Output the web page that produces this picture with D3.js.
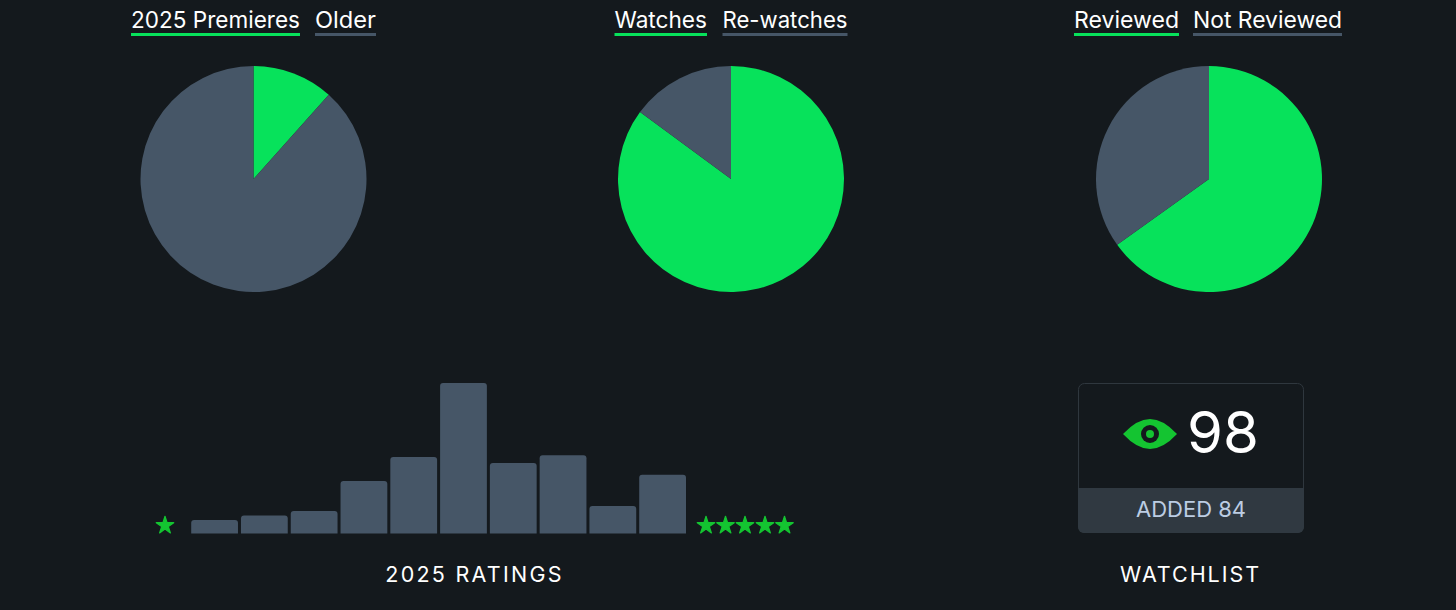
<!DOCTYPE html>
<html><head><meta charset="utf-8">
<script src="https://cdn.jsdelivr.net/npm/d3@7"></script>
<style>html,body{margin:0;padding:0;background:#14191d;overflow:hidden}svg{display:block}text{font-family:Inter,"Noto Sans",sans-serif}</style>
</head><body><div id="c"></div>
<script>
const W=1456,H=610;
const green="#07e25b",slate="#465667",starGreen="#14c431",bg="#14191d";
const pieLabels=[["2025 Premieres","Older"],["Watches","Re-watches"],["Reviewed","Not Reviewed"]];
const pieValues=[[11.6,88.4],[85.1,14.9],[65.1,34.9]];
const ratingLevels=["0.5","1","1.5","2","2.5","3","3.5","4","4.5","5"];
const ratingValues=[3,4,5,11.6,16.9,33.3,15.6,17.3,6.1,13];
const watchCount="98",addedLabel="ADDED 84",ratingsTitle="2025 RATINGS",watchTitle="WATCHLIST";
const pieCx=[253.5,731,1209];
const legendX=[[131,315],[614.5,722.5],[1074,1193]];
const legendW=[[169,61],[92.5,125],[105,149]];

const svg=d3.select("#c").append("svg").attr("width",W).attr("height",H);
svg.append("rect").attr("width",W).attr("height",H).attr("fill",bg);

const pie=d3.pie().sort(null).value(d=>d);
const arc=d3.arc().innerRadius(0).outerRadius(113);
pieValues.forEach((vals,i)=>{
  const g=svg.append("g").attr("transform",`translate(${pieCx[i]},179)`);
  g.selectAll("path").data(pie(vals)).join("path").attr("d",arc).attr("fill",(d,j)=>j==0?green:slate);
  pieLabels[i].forEach((t,j)=>{
    svg.append("text").attr("x",legendX[i][j]).attr("y",28).attr("font-size",23).attr("fill","#fff")
      .attr("textLength",legendW[i][j]).attr("lengthAdjust","spacingAndGlyphs").text(t);
    svg.append("rect").attr("x",legendX[i][j]).attr("y",33).attr("width",legendW[i][j]).attr("height",3).attr("fill",j==0?green:slate);
  });
});

const x=d3.scaleBand().domain(ratingLevels).range([189.7,687.5]).paddingInner(0.06).paddingOuter(0.03);
const y=d3.scaleLinear().domain([0,33.3]).range([533.5,383]);
const barPath=d=>{const x0=x(d.k),w=x.bandwidth(),t=y(d.v),b=y(0),r=3;
  return `M${x0},${b}V${t+r}Q${x0},${t} ${x0+r},${t}H${x0+w-r}Q${x0+w},${t} ${x0+w},${t+r}V${b}Z`;};
svg.append("g").selectAll("path").data(ratingLevels.map((k,i)=>({k,v:ratingValues[i]}))).join("path").attr("d",barPath).attr("fill",slate);

const star=d3.symbol().type(d3.symbolStar).size(95);
const starXs=[165,706,725.5,745,765,784.5];
svg.append("g").selectAll("path").data(starXs).join("path").attr("d",star)
  .attr("transform",d=>`translate(${d},525.5)`).attr("fill",starGreen).attr("stroke",starGreen).attr("stroke-width",1.2).attr("stroke-linejoin","round");

const title=(t,cx,ls,fs)=>svg.append("text").attr("x",cx).attr("y",582).attr("text-anchor","middle").attr("font-size",fs).attr("letter-spacing",ls).attr("fill","#fff").text(t);
title(ratingsTitle,474.5,2.25,21.5);
title(watchTitle,1190.5,1.95,21.5);

// watchlist card
svg.append("rect").attr("x",1078.5).attr("y",383.5).attr("width",225).attr("height",149).attr("rx",6).attr("fill",bg).attr("stroke","#2f373e");
svg.append("path").attr("d","M1078,488H1304V527a6,6 0 0 1 -6,6H1084a6,6 0 0 1 -6,-6Z").attr("fill","#303941");
svg.append("text").attr("x",1191).attr("y",517).attr("text-anchor","middle").attr("font-size",22).attr("fill","#bccde3").text(addedLabel);
svg.append("text").attr("x",1187).attr("y",453).attr("font-size",58).attr("fill","#fff").text(watchCount);
const eye=svg.append("g").attr("transform","translate(1150,434)");
eye.append("path").attr("d","M-27,0Q-13,-15 0,-15Q13,-15 27,0Q13,15 0,15Q-13,15 -27,0Z").attr("fill",starGreen);
eye.append("circle").attr("r",9).attr("fill",bg);
eye.append("circle").attr("r",4).attr("fill",starGreen);
</script></body></html>
